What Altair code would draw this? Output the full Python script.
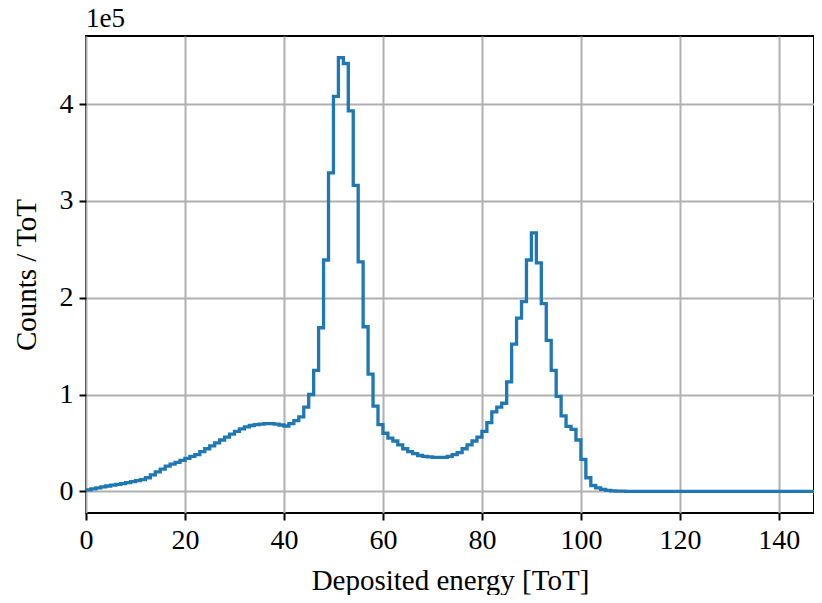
import altair as alt
import pandas as pd

# Histogram contents, in units of 1e5 counts per ToT bin (bin width 1 ToT)
counts_1e5 = [
    0.015, 0.025, 0.035, 0.045, 0.055, 0.065, 0.072, 0.080, 0.090, 0.100,   # 0-9
    0.110, 0.120, 0.140, 0.170, 0.200, 0.230, 0.260, 0.280, 0.300, 0.320,   # 10-19
    0.340, 0.360, 0.380, 0.410, 0.440, 0.470, 0.500, 0.530, 0.560, 0.590,   # 20-29
    0.620, 0.645, 0.665, 0.680, 0.690, 0.695, 0.700, 0.700, 0.695, 0.685,   # 30-39
    0.675, 0.700, 0.730, 0.770, 0.870, 1.000, 1.250, 1.690, 2.390, 3.290,   # 40-49
    4.080, 4.480, 4.420, 3.930, 3.160, 2.370, 1.700, 1.210, 0.880, 0.690,   # 50-59
    0.600, 0.550, 0.520, 0.480, 0.440, 0.410, 0.390, 0.370, 0.360, 0.355,   # 60-69
    0.350, 0.350, 0.350, 0.360, 0.380, 0.400, 0.440, 0.480, 0.520, 0.560,   # 70-79
    0.620, 0.710, 0.820, 0.870, 0.910, 1.130, 1.520, 1.790, 1.960, 2.390,   # 80-89
    2.670, 2.360, 1.940, 1.560, 1.250, 0.980, 0.780, 0.670, 0.640, 0.530,   # 90-99
    0.330, 0.140, 0.060, 0.035, 0.020, 0.010, 0.005, 0.002, 0.001, 0.000,   # 100-109
    0.000, 0.000, 0.000, 0.000, 0.000, 0.000, 0.000, 0.000, 0.000, 0.000,   # 110-119
    0.000, 0.000, 0.000, 0.000, 0.000, 0.000, 0.000, 0.000, 0.000, 0.000,   # 120-129
    0.000, 0.000, 0.000, 0.000, 0.000, 0.000, 0.000, 0.000, 0.000, 0.000,   # 130-139
    0.000, 0.000, 0.000, 0.000, 0.000, 0.000, 0.000, 0.000, 0.000,          # 140-148
]
bin_width = 1
scale_factor = 1e5

x_ticks = [0, 20, 40, 60, 80, 100, 120, 140]
y_ticks = [0, 100000, 200000, 300000, 400000]
x_domain = [0, 147.1]
y_domain = [-22400, 470400]
offset_label = ["1e5"]

edges = [i * bin_width for i in range(len(counts_1e5) + 1)]
counts = [c * scale_factor for c in counts_1e5] + [counts_1e5[-1] * scale_factor]
df = pd.DataFrame({"edge": edges, "count": counts})

FONT = "Liberation Serif"
FS = 28
TFS = 29

line = alt.Chart(df).mark_line(
    interpolate="step-after", color="#1f77b4", strokeWidth=3.3, clip=True
).encode(
    x=alt.X(
        "edge:Q",
        scale=alt.Scale(domain=x_domain, nice=False, zero=False),
        axis=alt.Axis(
            values=x_ticks,
            title="Deposited energy [ToT]",
            labelPadding=6,
            titlePadding=12,
            labelFlush=False,
        ),
    ),
    y=alt.Y(
        "count:Q",
        scale=alt.Scale(domain=y_domain, nice=False, zero=False),
        axis=alt.Axis(
            values=y_ticks,
            labelExpr="format(datum.value / 100000, 'd')",
            title="Counts / ToT",
            labelPadding=6,
            titlePadding=18,
            labelFlush=False,
        ),
    ),
)

offset = alt.Chart(pd.DataFrame({"t": offset_label})).mark_text(
    align="left", baseline="alphabetic", font=FONT, fontSize=27, color="black"
).encode(x=alt.value(0), y=alt.value(-9), text="t:N")

chart = (
    alt.layer(line, offset)
    .properties(
        width=728,
        height=477,
        autosize=alt.AutoSizeParams(type="none"),
        padding={"left": 78, "top": 28, "right": 0, "bottom": 82},
    )
    .configure_view(stroke="black", strokeWidth=2)
    .configure_axis(
        domain=False,
        grid=True,
        gridColor="#b0b0b0",
        gridWidth=2,
        tickColor="black",
        tickSize=7,
        tickWidth=2,
        labelFont=FONT,
        labelFontSize=FS,
        labelColor="black",
        titleFont=FONT,
        titleFontSize=TFS,
        titleFontWeight="normal",
        titleColor="black",
    )
)

chart.save("out.html", embed_options={"renderer": "svg", "actions": False})
